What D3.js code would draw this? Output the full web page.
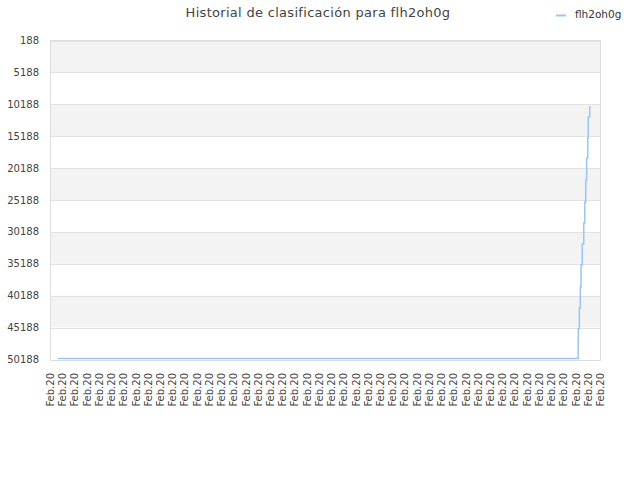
<!DOCTYPE html>
<html>
<head>
<meta charset="utf-8">
<script src="https://cdn.jsdelivr.net/npm/d3@7"></script>
<style>
  body { margin: 0; background: #fff; }
  text { font-family: "DejaVu Sans", sans-serif; }
</style>
</head>
<body>
<div id="chart"></div>
<script>
// tick labels along x (one per tick position)
const xLabels = d3.range(46).map(() => 'Feb.20');
const yTicks = [188, 5188, 10188, 15188, 20188, 25188, 30188, 35188, 40188, 45188, 50188];

// series: position (in tick units) and rank
const posX = [0.65, 43.22, 43.31, 43.39, 43.45, 43.55, 43.67, 43.75, 43.83, 43.91, 44.0, 44.04, 44.16];
const rank = [50050, 45400, 42120, 38830, 35380, 32080, 28790, 25500, 22050, 18600, 15470, 12180, 10460];

const seriesName = 'flh2oh0g';
const title = 'Historial de clasificación para ' + seriesName;

const width = 640, height = 480;
const margin = {top: 40, right: 40, bottom: 120, left: 50};

const svg = d3.select('#chart').append('svg')
    .attr('width', width)
    .attr('height', height);

const x = d3.scaleLinear()
    .domain([0, xLabels.length - 1])
    .range([margin.left, width - margin.right]);

const y = d3.scaleLinear()
    .domain([188, 50188])
    .range([margin.top + 0.5, height - margin.bottom - 0.5]);

// alternating bands
const bands = d3.pairs(yTicks);
svg.append('g')
    .selectAll('rect')
    .data(bands)
    .join('rect')
    .attr('x', margin.left)
    .attr('width', width - margin.left - margin.right)
    .attr('y', d => y(d[0]))
    .attr('height', d => y(d[1]) - y(d[0]))
    .attr('fill', (d, i) => i % 2 === 0 ? '#f3f3f3' : '#ffffff');

// grid lines
svg.append('g')
    .selectAll('line')
    .data(yTicks)
    .join('line')
    .attr('x1', margin.left)
    .attr('x2', width - margin.right)
    .attr('y1', d => Math.round(y(d)) + 0.5)
    .attr('y2', d => Math.round(y(d)) + 0.5)
    .attr('stroke', '#e2e2e2');

// frame
svg.append('rect')
    .attr('x', margin.left + 0.5)
    .attr('y', margin.top + 0.5)
    .attr('width', width - margin.left - margin.right)
    .attr('height', height - margin.top - margin.bottom)
    .attr('fill', 'none')
    .attr('stroke', '#dddddd');

// y labels
svg.append('g')
    .selectAll('text')
    .data(yTicks)
    .join('text')
    .attr('x', margin.left - 11)
    .attr('y', d => y(d))
    .attr('dy', '0.35em')
    .attr('text-anchor', 'end')
    .attr('font-size', 10)
    .attr('fill', '#444')
    .text(d => d);

// x labels
svg.append('g')
    .selectAll('text')
    .data(xLabels)
    .join('text')
    .attr('transform', (d, i) => `translate(${x(i) + 4},${height - margin.bottom + 13}) rotate(-90)`)
    .attr('text-anchor', 'end')
    .attr('font-size', 10)
    .attr('fill', '#444')
    .text(d => d);

// line
const data = posX.map((p, i) => ({p, r: rank[i]}));
const line = d3.line()
    .x(d => x(d.p))
    .y(d => y(d.r))
    .curve(d3.curveStepAfter);

svg.append('path')
    .datum(data)
    .attr('d', line)
    .attr('fill', 'none')
    .attr('stroke', '#99c6f3')
    .attr('stroke-width', 1.5);

// title
svg.append('text')
    .attr('x', 318)
    .attr('y', 17)
    .attr('text-anchor', 'middle')
    .attr('font-size', 13)
    .attr('letter-spacing', 0.3)
    .attr('fill', '#444')
    .text(title);

// legend
svg.append('line')
    .attr('x1', 556).attr('x2', 566)
    .attr('y1', 15.5).attr('y2', 15.5)
    .attr('stroke', '#99c6f3')
    .attr('stroke-width', 2);
svg.append('text')
    .attr('x', 575)
    .attr('y', 18)
    .attr('font-size', 10.5)
    .attr('fill', '#333')
    .text(seriesName);
</script>
</body>
</html>
